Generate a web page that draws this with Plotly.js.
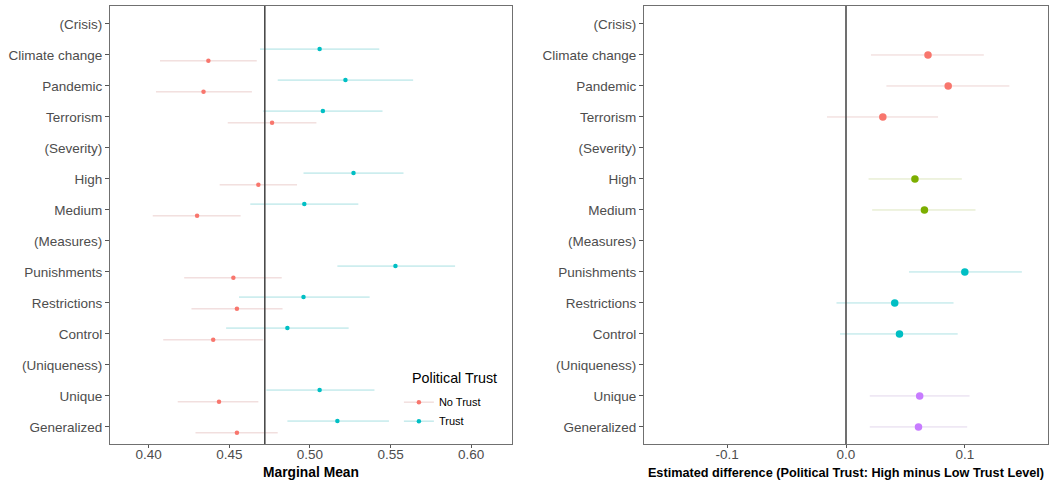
<!DOCTYPE html>
<html><head><meta charset="utf-8">
<script src="https://cdn.plot.ly/plotly-3.0.1.min.js"></script>
<style>html,body{margin:0;padding:0;background:#fff}#chart{width:1049px;height:483px}</style>
</head><body><div id="chart"></div>
<script>
const categories = ["(Crisis)","Climate change","Pandemic","Terrorism","(Severity)","High","Medium","(Measures)","Punishments","Restrictions","Control","(Uniqueness)","Unique","Generalized"];
// Left panel: marginal means by political trust (null = header rows)
const trustMean   = [null,0.506,0.522,0.508,null,0.527,0.4965,null,0.553,0.496,0.486,null,0.506,0.517];
const trustLow    = [null,0.469,0.480,0.471,null,0.496,0.463,null,0.517,0.456,0.448,null,0.473,0.486];
const trustHigh   = [null,0.543,0.564,0.545,null,0.558,0.530,null,0.590,0.537,0.524,null,0.540,0.549];
const noTrustMean = [null,0.437,0.434,0.4765,null,0.468,0.430,null,0.4525,0.4547,0.440,null,0.4436,0.4547];
const noTrustLow  = [null,0.407,0.4045,0.449,null,0.444,0.4025,null,0.422,0.4265,0.409,null,0.418,0.429];
const noTrustHigh = [null,0.467,0.464,0.504,null,0.492,0.457,null,0.4825,0.483,0.471,null,0.468,0.480];
const overallMean = 0.472;
// Right panel: estimated difference (High minus Low trust)
const diffEst   = [null,0.069,0.086,0.031,null,0.058,0.066,null,0.100,0.041,0.045,null,0.062,0.061];
const diffLow   = [null,0.021,0.034,-0.016,null,0.019,0.022,null,0.053,-0.008,-0.005,null,0.020,0.020];
const diffHigh  = [null,0.116,0.1375,0.0775,null,0.0975,0.109,null,0.148,0.0905,0.094,null,0.104,0.102];
const diffGroup = [null,"Crisis","Crisis","Crisis",null,"Severity","Severity",null,"Measures","Measures","Measures",null,"Uniqueness","Uniqueness"];
const groups = ["Crisis","Severity","Measures","Uniqueness"];
const groupColors = {"Crisis":"#F8766D","Severity":"#7CAE00","Measures":"#00BFC4","Uniqueness":"#C77CFF"};
const groupCI = {"Crisis":"#EDD3D2","Severity":"#DDE6BF","Measures":"#ADE2E4","Uniqueness":"#E2D6EC"};
const legendTitle = "Political Trust";
const trustLabels = ["No Trust","Trust"];
const xTicksLeft = [0.40,0.45,0.50,0.55,0.60];
const xTicksRight = [-0.1,0.0,0.1];

const n = categories.length;
const pos = categories.map((c,i)=>n-1-i);
const dodge = 0.19;

function series(mean, lo, hi, offset){
  const x=[],y=[],ep=[],em=[];
  mean.forEach((m,i)=>{ if(m!==null){ x.push(m); y.push(pos[i]+offset); ep.push(hi[i]-m); em.push(m-lo[i]); }});
  return {x,y,ep,em};
}
const traces=[];
const leftSpec = [
  {name:trustLabels[0], s:series(noTrustMean,noTrustLow,noTrustHigh,-dodge), col:"#F8766D", ci:"#EBCFCE"},
  {name:trustLabels[1], s:series(trustMean,trustLow,trustHigh,dodge), col:"#00BFC4", ci:"#A8E0E2"}
];
leftSpec.forEach(sp=>{
  traces.push({type:'scatter',mode:'markers',x:sp.s.x,y:sp.s.y,xaxis:'x',yaxis:'y',showlegend:false,
    marker:{color:sp.col,size:4.5},
    error_x:{type:'data',symmetric:false,array:sp.s.ep,arrayminus:sp.s.em,width:0,thickness:1,color:sp.ci},
    hoverinfo:'x'});
});
// legend entries
leftSpec.forEach(sp=>{
  traces.push({type:'scatter',mode:'lines+markers',x:[null],y:[null],xaxis:'x',yaxis:'y',name:sp.name,
    line:{color:sp.ci,width:1},marker:{color:sp.col,size:4.5}});
});
groups.forEach(g=>{
  const mean=[],lo=[],hi=[];
  diffEst.forEach((v,i)=>{ if(diffGroup[i]===g){mean.push(v);lo.push(diffLow[i]);hi.push(diffHigh[i]);} else {mean.push(null);lo.push(null);hi.push(null);} });
  const s=series(mean,lo,hi,0);
  traces.push({type:'scatter',mode:'markers',x:s.x,y:s.y,xaxis:'x2',yaxis:'y2',showlegend:false,
    marker:{color:groupColors[g],size:7.5},
    error_x:{type:'data',symmetric:false,array:s.ep,arrayminus:s.em,width:0,thickness:1,color:groupCI[g]},
    hoverinfo:'x'});
});

const FONT = '"Liberation Sans", Arial, sans-serif';
const tickFont = {family:FONT,size:13.5,color:'#4D4D4D'};
const titleFont = {family:FONT,size:13.8,color:'#000'};
const common = {showgrid:false,zeroline:false,showline:true,mirror:true,linecolor:'#707070',linewidth:1,
  ticks:'outside',ticklen:4,tickcolor:'#555',tickwidth:1,tickfont:tickFont,fixedrange:true};
const yRange=[-0.55,13.58];

const layout = {
  width:1049,height:483,
  margin:{l:110,r:1,t:6,b:39},
  paper_bgcolor:'#fff',plot_bgcolor:'#fff',
  font:{family:FONT},
  showlegend:true,
  legend:{x:0.308,y:0.1287,xanchor:'left',yanchor:'top',bgcolor:'rgba(255,255,255,0)',
    font:{family:FONT,size:11,color:'#000'},itemwidth:30,traceorder:'normal'},
  annotations:[{text:legendTitle,xref:'paper',yref:'paper',x:0.3199,y:0.1507,xanchor:'left',yanchor:'middle',
    showarrow:false,font:{family:FONT,size:14.3,color:'#000'}}],
  xaxis:Object.assign({},common,{domain:[0,0.4286],anchor:'y',range:[0.376,0.6253],ticklen:3,ticklabelstandoff:-5,
    tickvals:xTicksLeft,ticktext:xTicksLeft.map(v=>v.toFixed(2)),
    title:{text:'<b>Marginal Mean</b>',font:titleFont,standoff:6}}),
  yaxis:Object.assign({},common,{domain:[0,1],anchor:'x',range:yRange,tickvals:pos,ticktext:categories}),
  xaxis2:Object.assign({},common,{domain:[0.5693,1],anchor:'y2',range:[-0.17,0.17],ticklen:3,ticklabelstandoff:-5,
    tickvals:xTicksRight,ticktext:xTicksRight.map(v=>v.toFixed(1)),
    title:{text:'<b>Estimated difference (Political Trust: High minus Low Trust Level)</b>',font:Object.assign({},titleFont,{size:12.7}),standoff:6}}),
  yaxis2:Object.assign({},common,{domain:[0,1],anchor:'x2',range:yRange,tickvals:pos,ticktext:categories}),
  shapes:[
    {type:'line',xref:'x',yref:'paper',x0:overallMean,x1:overallMean,y0:0,y1:1,line:{color:'#404040',width:1.5}},
    {type:'line',xref:'x2',yref:'paper',x0:0,x1:0,y0:0,y1:1,line:{color:'#404040',width:1.5}}
  ]
};
Plotly.newPlot('chart',traces,layout,{displayModeBar:false,staticPlot:true});
</script>
</body></html>
